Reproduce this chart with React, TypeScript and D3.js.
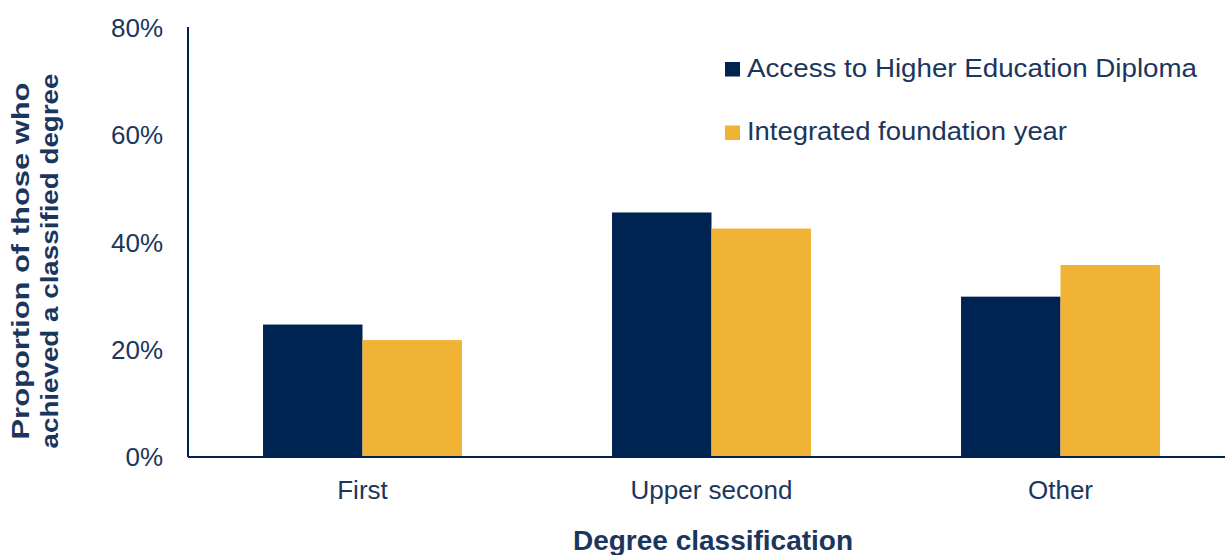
import React from "react";
import * as d3 from "d3";

const categories = ["First", "Upper second", "Other"];
const seriesNames = ["Access to Higher Education Diploma", "Integrated foundation year"];
const accessValues = [24.7, 45.6, 29.9];
const foundationValues = [21.8, 42.6, 35.8];
const yTicks = [0, 20, 40, 60, 80];
const colors = ["#002452", "#F0B336"];
const textColor = "#1B365D";

export default function App() {
  const W = 1225, H = 555;
  const x0 = 188, yTop = 28, yBottom = 457;
  const step = 349;
  const x = d3.scaleBand<string>().domain(categories).range([x0, x0 + step * categories.length]).paddingInner(0.43).paddingOuter(0.215);
  const xi = d3.scaleBand<string>().domain(seriesNames).range([0, x.bandwidth()]);
  const y = d3.scaleLinear().domain([0, 80]).range([yBottom, yTop]);
  const series = [accessValues, foundationValues];
  const legendLens = [450, 320];
  const font = "'Liberation Sans', Arial, sans-serif";
  return (
    <svg width={W} height={H} style={{ position: "absolute", left: 0, top: 0, background: "#fff" }} fontFamily={font}>
      {categories.map((c, i) =>
        series.map((vals, s) => (
          <rect key={c + s} x={(x(c) ?? 0) + (xi(seriesNames[s]) ?? 0)} y={y(vals[i])} width={xi.bandwidth()} height={y(0) - y(vals[i])} fill={colors[s]} />
        ))
      )}
      <line x1={x0} x2={W} y1={yBottom} y2={yBottom} stroke="#002452" strokeWidth={2} />
      <line x1={x0} x2={x0} y1={yTop - 1} y2={yBottom} stroke="#002452" strokeWidth={2} />
      {yTicks.map((t) => (
        <text key={t} x={163} y={y(t)} dy="0.35em" textAnchor="end" fontSize={26} fill={textColor}>{t}%</text>
      ))}
      {categories.map((c) => (
        <text key={c} x={(x(c) ?? 0) + x.bandwidth() / 2} y={499} textAnchor="middle" fontSize={26} fill={textColor}>{c}</text>
      ))}
      <text x={713} y={550} textAnchor="middle" fontSize={28} fontWeight="bold" fill={textColor} textLength={280} lengthAdjust="spacingAndGlyphs">Degree classification</text>
      <text transform="translate(29,261) rotate(-90)" textAnchor="middle" fontSize={23} fontWeight="bold" fill={textColor}>
        <tspan x={0} y={0} textLength={357} lengthAdjust="spacingAndGlyphs">Proportion of those who</tspan>
        <tspan x={0} y={28.5} textLength={375} lengthAdjust="spacingAndGlyphs">achieved a classified degree</tspan>
      </text>
      {seriesNames.map((n, s) => (
        <g key={n} transform={`translate(725,${76.5 + s * 63.5})`}>
          <rect x={0} y={-14.5} width={15} height={14.5} fill={colors[s]} />
          <text x={22} y={0} fontSize={25} fill={textColor} textLength={legendLens[s]} lengthAdjust="spacingAndGlyphs">{n}</text>
        </g>
      ))}
    </svg>
  );
}
